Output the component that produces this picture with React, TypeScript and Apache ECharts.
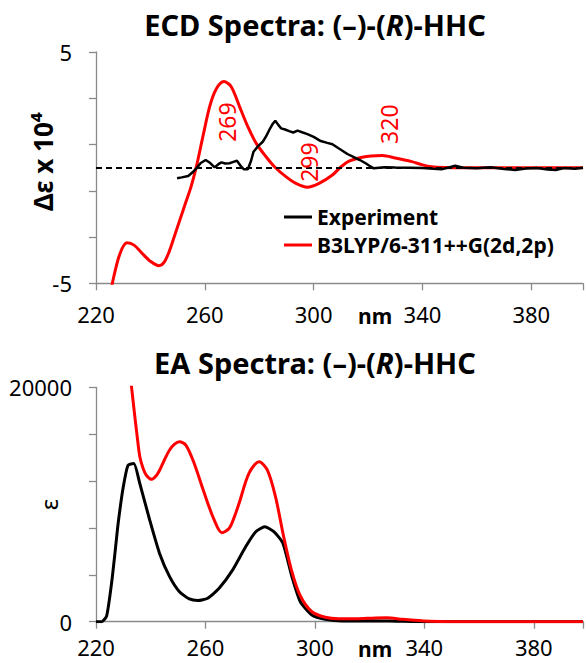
import React, { useEffect, useRef } from 'react';
import * as echarts from 'echarts';

const FONT = '"Noto Sans", "DejaVu Sans", sans-serif';

// ---------- ECD (top panel) ----------
const ecdExpWl = [249.8, 251.5, 253.9, 255.5, 256.9, 258.5, 260.3, 262, 263.6, 265, 266.1, 267.5, 269.1, 270.5, 271.8, 273, 274.3, 275.8, 277, 277.9, 279.5, 281.3, 282.5, 283.7, 285, 285.9, 287, 288, 289.5, 291, 292.5, 294.1, 296, 297.7, 300, 302.6, 305, 306.9, 309, 311, 312.4, 314.8, 317, 319.1, 320.5, 322.1, 326, 330, 335, 340, 344, 347, 350, 352, 355, 360, 365, 370, 374, 378, 382, 386, 389, 392, 396, 399];
const ecdExpVal = [-0.46, -0.42, -0.36, -0.2, -0.03, 0.2, 0.33, 0.2, 0.01, 0.15, 0.23, 0.18, 0.19, 0.25, 0.3, 0.1, -0.07, -0.07, 0.3, 0.69, 0.92, 1.12, 1.35, 1.63, 1.9, 2.03, 1.85, 1.7, 1.65, 1.58, 1.52, 1.6, 1.52, 1.45, 1.33, 1.15, 1.07, 1.01, 0.85, 0.7, 0.59, 0.45, 0.33, 0.19, 0.08, -0.03, 0.02, 0.01, 0.0, -0.02, -0.05, -0.07, 0.02, 0.08, 0.0, -0.03, 0.02, -0.06, -0.1, -0.04, -0.02, -0.08, -0.1, -0.02, -0.05, 0.0];

const ecdCalcWl = [224, 226, 228.7, 231.4, 234, 236.9, 240, 243.1, 245, 247, 249, 251, 253, 255, 257, 259.3, 261.8, 264.2, 267, 269.7, 272.8, 275.8, 278.9, 282.5, 285.6, 289.8, 293.5, 297.7, 302, 306.9, 310, 313, 317, 321, 325.2, 330, 336.1, 340, 343.4, 348, 355, 399];
const ecdCalcVal = [-6.2, -5.0, -3.75, -3.25, -3.35, -3.7, -4.05, -4.24, -4.1, -3.6, -2.9, -2.2, -1.5, -0.8, 0.1, 1.35, 2.65, 3.4, 3.72, 3.5, 2.63, 1.77, 1.05, 0.47, 0.04, -0.39, -0.68, -0.85, -0.68, -0.32, 0.03, 0.28, 0.43, 0.5, 0.52, 0.42, 0.26, 0.12, 0.04, 0.01, 0.0, 0.0];

const peakLabels = ['269', '299', '320'];
const peakLabelWl = [268.0, 298.4, 327.6];
const peakLabelY = [1.97, 0.24, 1.88];

// ---------- EA (bottom panel) ----------
const eaExpWl = [220, 222.1, 223.9, 225.7, 227, 228.1, 229.9, 231.7, 233.8, 236, 239.6, 243.2, 246.9, 250.5, 254.1, 257.2, 260.8, 265, 269.9, 274.7, 278.4, 281.7, 285, 288.3, 291.6, 294.7, 298.9, 303.8, 310, 320, 330, 340, 398];
const eaExpVal = [0, 0, 500, 3300, 6000, 8400, 11400, 13350, 13500, 11800, 8700, 5850, 3850, 2560, 1940, 1800, 2000, 2850, 4400, 6400, 7680, 8100, 7680, 6700, 3850, 1700, 570, 200, 50, 80, 40, 0, 0];

const eaCalcWl = [232.6, 233, 234.2, 235, 236, 237.2, 238.4, 240.4, 242, 243.2, 245, 246.9, 248.7, 250.5, 252.9, 255.9, 259.6, 263.2, 266, 268.7, 270.5, 272.3, 275.9, 279.6, 282.6, 285.6, 288.6, 291.6, 294.7, 298.9, 303.8, 308.6, 315, 322, 326.3, 332, 339.8, 345, 350, 398];
const eaCalcVal = [21000, 20000, 17500, 15900, 14100, 13100, 12500, 12150, 12450, 12900, 13800, 14650, 15150, 15350, 15050, 13500, 10950, 8680, 7600, 7970, 8900, 10100, 12660, 13650, 12950, 10670, 7250, 4270, 2190, 850, 380, 250, 250, 320, 330, 200, 60, 10, 0, 0];

const xTickLabels = [220, 260, 300, 340, 380];
const ecdYLabels = [-5, 5];
const eaYLabels = [0, 20000];

const zip = (a: number[], b: number[]) => a.map((v, i) => [v, b[i]]);

const axisLineStyle = { color: '#8a8a8a', width: 1.3 };

function xAxisCfg(gridIndex: number, max: number, margin: number) {
  return {
    type: 'value',
    gridIndex,
    min: 220,
    max,
    interval: 40,
    axisLine: { show: true, onZero: false, lineStyle: axisLineStyle },
    axisTick: { show: true, length: 7, lineStyle: axisLineStyle },
    splitLine: { show: false },
    axisLabel: {
      margin,
      fontSize: 22,
      lineHeight: 17,
      fontFamily: FONT,
      color: '#000',
      formatter: (v: number) => (xTickLabels.includes(v) ? String(v) : ''),
    },
  };
}

export default function App() {
  const ref = useRef<HTMLDivElement>(null);
  useEffect(() => {
    const chart = echarts.init(ref.current!, null, { renderer: 'svg' });
    const titleRich = {
      b: { fontFamily: FONT, fontWeight: 'bold', fontSize: 29, color: '#000' },
      i: { fontFamily: FONT, fontWeight: 'bold', fontStyle: 'italic', fontSize: 29, color: '#000' },
    };
    const option = {
      animation: false,
      backgroundColor: '#fff',
      title: [
        {
          text: '{b|ECD Spectra: (–)-(}{i|R}{b|)-HHC}',
          left: 310,
          textAlign: 'center',
          top: 5,
          textStyle: { rich: titleRich },
        },
        {
          text: '{b|EA Spectra: (–)-(}{i|R}{b|)-HHC}',
          left: 310,
          textAlign: 'center',
          top: 343,
          textStyle: { rich: titleRich },
        },
      ],
      legend: {
        orient: 'vertical',
        left: 284,
        top: 205,
        padding: 0,
        icon: 'rect',
        itemWidth: 28,
        itemHeight: 3,
        itemGap: 4,
        data: ['Experiment', 'B3LYP/6-311++G(2d,2p)'],
        textStyle: { fontFamily: FONT, fontWeight: 'bold', fontSize: 21, color: '#000', lineHeight: 24 },
      },
      grid: [
        { left: 96, top: 52, right: 0, height: 231.3, containLabel: false },
        { left: 96, top: 387.3, right: 0, height: 234.4, containLabel: false },
      ],
      xAxis: [xAxisCfg(0, 399, 22), xAxisCfg(1, 398, 17)],
      yAxis: [
        {
          type: 'value',
          gridIndex: 0,
          min: -5,
          max: 5,
          interval: 2,
          name: 'Δε x 10⁴',
          nameLocation: 'middle',
          nameGap: 40,
          nameMoveOverlap: false,
          nameTextStyle: { fontFamily: FONT, fontWeight: 'bold', fontSize: 26, color: '#000', padding: [0, 0, 0, 12] },
          axisLine: { show: true, lineStyle: axisLineStyle },
          axisTick: { show: true, length: 7, lineStyle: axisLineStyle },
          splitLine: { show: false },
          axisLabel: {
            margin: 24,
            fontSize: 22,
            fontFamily: FONT,
            color: '#000',
            formatter: (v: number) => (ecdYLabels.includes(v) ? String(v) : ''),
          },
        },
        {
          type: 'value',
          gridIndex: 1,
          min: 0,
          max: 20000,
          interval: 4000,
          name: 'ε',
          nameLocation: 'middle',
          nameGap: 36,
          nameMoveOverlap: false,
          nameTextStyle: { fontFamily: FONT, fontSize: 24, color: '#000' },
          axisLine: { show: true, lineStyle: axisLineStyle },
          axisTick: { show: true, length: 7, lineStyle: axisLineStyle },
          splitLine: { show: false },
          axisLabel: {
            margin: 24,
            fontSize: 22,
            fontFamily: FONT,
            color: '#000',
            formatter: (v: number) => (eaYLabels.includes(v) ? String(v) : ''),
          },
        },
      ],
      series: [
        {
          name: 'Experiment',
          type: 'line',
          xAxisIndex: 0,
          yAxisIndex: 0,
          data: zip(ecdExpWl, ecdExpVal),
          showSymbol: false,
          symbol: 'none',
          color: '#000',
          lineStyle: { color: '#000', width: 2.5 },
          z: 3,
          markLine: {
            silent: true,
            symbol: ['none', 'none'],
            label: { show: false },
            lineStyle: { color: '#000', width: 2, type: [6, 4] },
            data: [{ yAxis: 0 }],
          },
        },
        {
          name: 'B3LYP/6-311++G(2d,2p)',
          type: 'line',
          xAxisIndex: 0,
          yAxisIndex: 0,
          data: zip(ecdCalcWl, ecdCalcVal),
          smooth: 0.3,
          showSymbol: false,
          symbol: 'none',
          color: '#f00',
          lineStyle: { color: '#f00', width: 3 },
          z: 2,
          markPoint: {
            silent: true,
            symbol: 'circle',
            symbolSize: 1,
            itemStyle: { color: 'rgba(0,0,0,0)' },
            label: {
              show: true,
              position: 'inside',
              rotate: 90,
              color: '#f00',
              fontSize: 23,
              fontFamily: FONT,
              formatter: (p: any) => p.name,
            },
            data: peakLabels.map((t, i) => ({ name: t, coord: [peakLabelWl[i], peakLabelY[i]] })),
          },
        },
        {
          name: 'Experiment',
          type: 'line',
          xAxisIndex: 1,
          yAxisIndex: 1,
          data: zip(eaExpWl, eaExpVal),
          smooth: 0.2,
          showSymbol: false,
          symbol: 'none',
          color: '#000',
          lineStyle: { color: '#000', width: 3 },
          z: 2,
        },
        {
          name: 'B3LYP/6-311++G(2d,2p)',
          type: 'line',
          xAxisIndex: 1,
          yAxisIndex: 1,
          data: zip(eaCalcWl, eaCalcVal),
          smooth: 0.3,
          showSymbol: false,
          symbol: 'none',
          color: '#f00',
          lineStyle: { color: '#f00', width: 3 },
          z: 3,
        },
      ],
      graphic: [
        { type: 'text', left: 358, top: 305, style: { text: 'nm', font: `bold 21px ${FONT}`, lineHeight: 16, fill: '#000' } },
        { type: 'text', left: 358, top: 638, style: { text: 'nm', font: `bold 21px ${FONT}`, lineHeight: 16, fill: '#000' } },
      ],
    };
    chart.setOption(option as any);
    return () => chart.dispose();
  }, []);
  return (
    <div
      ref={ref}
      style={{ position: 'absolute', left: 0, top: 0, width: 586, height: 663, background: '#fff' }}
    />
  );
}
